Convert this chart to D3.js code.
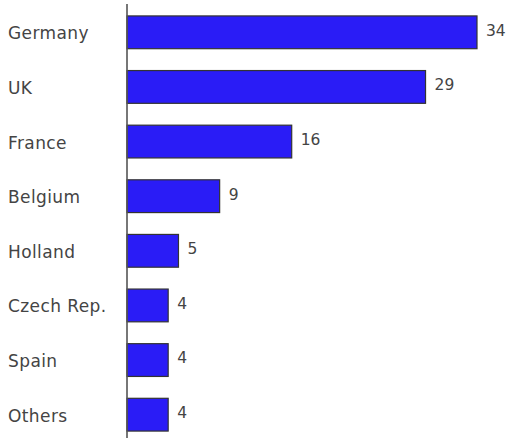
<!DOCTYPE html>
<html>
<head>
<meta charset="utf-8">
<script src="https://cdn.jsdelivr.net/npm/d3@7"></script>
<style>
  html, body { margin: 0; padding: 0; background: #fff; }
  svg { display: block; }
  text { font-family: "DejaVu Sans", Verdana, sans-serif; fill: #444; }
</style>
</head>
<body>
<svg id="chart" width="512" height="438"></svg>
<script>
const countries = ["Germany", "UK", "France", "Belgium", "Holland", "Czech Rep.", "Spain", "Others"];
const shares = [34, 29, 16, 9, 5, 4, 4, 4];

const width = 512, height = 438;
const margin = { top: 5, right: 35, bottom: -4, left: 127 };

const svg = d3.select("#chart");

const x = d3.scaleLinear()
  .domain([0, 34])
  .range([margin.left, margin.left + 350]);

const y = d3.scaleBand()
  .domain(countries)
  .range([margin.top, height - margin.bottom])
  .paddingInner(0.4)
  .paddingOuter(0.2);

const rows = countries.map((c, i) => ({ country: c, value: shares[i] }));

// Category labels on the left
svg.append("g")
  .selectAll("text")
  .data(rows)
  .join("text")
  .attr("x", 8)
  .attr("y", d => y(d.country) + y.bandwidth() / 2 + 1)
  .attr("dy", "0.35em")
  .attr("font-size", 17)
  .attr("letter-spacing", 0.4)
  .text(d => d.country);

// Bars
svg.append("g")
  .selectAll("rect")
  .data(rows)
  .join("rect")
  .attr("x", x(0))
  .attr("y", d => y(d.country))
  .attr("width", d => x(d.value) - x(0))
  .attr("height", y.bandwidth())
  .attr("fill", "#2a1cf6")
  .attr("stroke", "#333")
  .attr("stroke-width", 1.2);

// Vertical baseline
svg.append("line")
  .attr("x1", x(0)).attr("x2", x(0))
  .attr("y1", 4).attr("y2", height)
  .attr("stroke", "#555")
  .attr("stroke-width", 1.6);

// Value labels at bar ends
svg.append("g")
  .selectAll("text")
  .data(rows)
  .join("text")
  .attr("x", d => x(d.value) + 9)
  .attr("y", d => y(d.country) + y.bandwidth() / 2 - 2)
  .attr("dy", "0.35em")
  .attr("font-size", 15.5)
  .text(d => d.value);
</script>
</body>
</html>
